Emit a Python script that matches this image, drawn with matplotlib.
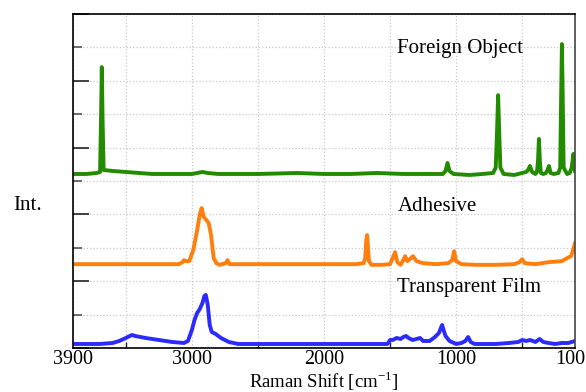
import matplotlib
matplotlib.use("Agg")
import matplotlib.pyplot as plt
import matplotlib.transforms as mtransforms
from matplotlib.ticker import MultipleLocator

plt.rcParams['font.family'] = ['Liberation Serif', 'DejaVu Serif']
plt.rcParams['mathtext.fontset'] = 'custom'
plt.rcParams['mathtext.rm'] = 'Liberation Serif'

# spectra (Raman shift, offset intensity)
film_x = [3900, 3700, 3600, 3550, 3500, 3470, 3453, 3430, 3350, 3250, 3150, 3060, 3030,
          3000, 2980, 2960, 2940, 2920, 2905, 2895, 2880, 2865, 2850, 2820, 2780, 2720,
          2650, 2500, 2000, 1600, 1520, 1500, 1480, 1450, 1420, 1400, 1379, 1360, 1330,
          1300, 1273, 1250, 1200, 1160, 1130, 1115, 1106, 1095, 1080, 1050, 1000, 960,
          930, 909, 890, 860, 800, 700, 600, 530, 500, 470, 440, 400, 367, 340, 300,
          250, 200, 150, 100]
film_y = [0.12, 0.12, 0.15, 0.21, 0.30, 0.36, 0.39, 0.36, 0.30, 0.24, 0.18, 0.15, 0.21,
          0.54, 0.84, 1.05, 1.17, 1.35, 1.56, 1.59, 1.29, 0.69, 0.48, 0.42, 0.30, 0.18,
          0.12, 0.12, 0.12, 0.12, 0.12, 0.24, 0.24, 0.30, 0.27, 0.33, 0.36, 0.30, 0.24,
          0.27, 0.30, 0.21, 0.21, 0.33, 0.45, 0.60, 0.69, 0.54, 0.36, 0.21, 0.12, 0.15,
          0.21, 0.33, 0.18, 0.12, 0.12, 0.12, 0.15, 0.18, 0.24, 0.21, 0.24, 0.18, 0.27,
          0.18, 0.15, 0.12, 0.15, 0.15, 0.21]

adhesive_x = [3900, 3500, 3200, 3100, 3070, 3060, 3045, 3020, 2990, 2960, 2940, 2926,
              2910, 2890, 2873, 2855, 2835, 2815, 2790, 2745, 2730, 2715, 2650, 2400,
              2000, 1760, 1700, 1688, 1680, 1674, 1668, 1660, 1640, 1560, 1500, 1480,
              1462, 1445, 1420, 1400, 1386, 1370, 1350, 1326, 1300, 1250, 1150, 1060,
              1030, 1015, 1000, 960, 850, 700, 560, 520, 500, 480, 400, 300, 200, 160,
              130, 115, 100]
adhesive_y = [2.51, 2.51, 2.51, 2.51, 2.57, 2.63, 2.60, 2.60, 2.93, 3.53, 4.01, 4.19,
              3.92, 3.83, 3.74, 3.38, 2.69, 2.54, 2.49, 2.54, 2.63, 2.51, 2.51, 2.51,
              2.51, 2.51, 2.54, 2.69, 3.23, 3.38, 3.08, 2.60, 2.49, 2.49, 2.51, 2.69,
              2.87, 2.57, 2.49, 2.63, 2.75, 2.60, 2.66, 2.75, 2.60, 2.54, 2.51, 2.54,
              2.63, 2.90, 2.60, 2.51, 2.49, 2.49, 2.51, 2.57, 2.66, 2.54, 2.51, 2.57,
              2.60, 2.69, 2.75, 2.93, 3.14]

foreign_x = [3900, 3800, 3720, 3695, 3688, 3682, 3676, 3668, 3600, 3500, 3400, 3300,
             3200, 3000, 2920, 2880, 2800, 2500, 2200, 2000, 1800, 1600, 1400, 1200,
             1100, 1080, 1065, 1050, 1020, 900, 800, 720, 700, 690, 682, 674, 665, 640,
             560, 500, 470, 455, 441, 425, 400, 388, 380, 373, 366, 358, 340, 320, 308,
             297, 285, 260, 225, 212, 205, 199, 193, 186, 160, 140, 125, 112, 105, 100]
foreign_y = [5.21, 5.21, 5.24, 5.27, 6.80, 8.41, 6.80, 5.33, 5.30, 5.27, 5.24, 5.21,
             5.21, 5.21, 5.27, 5.24, 5.21, 5.21, 5.24, 5.21, 5.21, 5.24, 5.21, 5.21,
             5.21, 5.30, 5.54, 5.30, 5.21, 5.18, 5.21, 5.24, 5.40, 6.50, 7.57, 6.50,
             5.40, 5.21, 5.18, 5.24, 5.27, 5.33, 5.45, 5.27, 5.21, 5.27, 5.60, 6.26,
             5.60, 5.24, 5.21, 5.24, 5.33, 5.45, 5.24, 5.21, 5.24, 5.40, 7.50, 9.10,
             7.50, 5.40, 5.21, 5.24, 5.40, 5.81, 5.45, 5.30]

labels = ['Transparent Film', 'Adhesive', 'Foreign Object']
label_y = [1.8, 4.25, 8.98]
colors = ['#2b2bff', '#ff7f0e', '#228b00']
xtick_vals = [3900, 3000, 2000, 1000, 100]

fig = plt.figure(figsize=(5.86, 3.92), dpi=100)
ax = fig.add_axes([73 / 586, 44 / 392, 502 / 586, 334 / 392])

series = [(film_x, film_y), (adhesive_x, adhesive_y), (foreign_x, foreign_y)]
for (xs, ys), c, name, ly in zip(series, colors, labels, label_y):
    ax.plot(xs, ys, color=c, lw=2.8, solid_joinstyle='round')
    ax.text(1445, ly, name, fontsize=15, ha='left', va='center')

ax.set_xlim(3900, 100)
ax.set_ylim(0, 10)

ax.set_xticks(xtick_vals)
ax.set_xticklabels([str(v) for v in xtick_vals])
ax.xaxis.set_minor_locator(MultipleLocator(500))
ax.tick_params(axis='x', which='major', length=0, labelsize=14.5, pad=1.5)
ax.tick_params(axis='x', which='minor', direction='in', length=4, width=1, color='#222222')
# nudge the last label so it stays inside the canvas
last = ax.get_xticklabels()[-1]
last.set_transform(last.get_transform() +
                   mtransforms.ScaledTranslation(-5 / 100, 0, fig.dpi_scale_trans))

ax.yaxis.set_major_locator(MultipleLocator(2))
ax.yaxis.set_minor_locator(MultipleLocator(1))
ax.tick_params(axis='y', which='major', direction='in', length=11.5, width=1.2,
               color='#222222', labelleft=False)
ax.tick_params(axis='y', which='minor', direction='in', length=6.5, width=1.2,
               color='#555555')

ax.grid(True, which='both', color='#c8c8c8', linestyle=':', linewidth=0.9)
ax.set_axisbelow(True)
for s in ax.spines.values():
    s.set_linewidth(1.2)
    s.set_color('black')
ax.spines['right'].set_color('#444444')

ax.set_xlabel('Raman Shift [cm$^{\\mathregular{-1}}$]', fontsize=13.5, labelpad=0)
fig.text(13 / 586, 1 - 205 / 392, 'Int.', fontsize=15, ha='left', va='center')

fig.savefig('out.png', dpi=100)
